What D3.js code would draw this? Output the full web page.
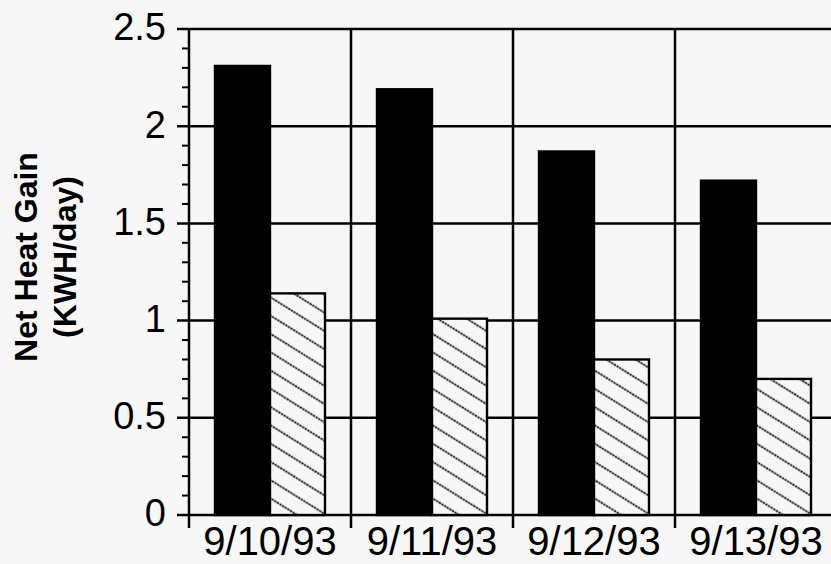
<!DOCTYPE html>
<html>
<head>
<meta charset="utf-8">
<script src="https://cdn.jsdelivr.net/npm/d3@7"></script>
<style>
  body { margin: 0; background: #f7f7f7; }
  svg { display: block; font-family: "Liberation Sans", Arial, Helvetica, sans-serif; }
</style>
</head>
<body>
<svg id="chart" width="831" height="564"></svg>
<script>
const dates = ["9/10/93", "9/11/93", "9/12/93", "9/13/93"];
const series = ["solid", "hatched"];
const solidValues = [2.31, 2.19, 1.87, 1.72];
const hatchedValues = [1.14, 1.01, 0.80, 0.70];
const yTicks = [0, 0.5, 1, 1.5, 2, 2.5];
const yTickLabels = ["0", "0.5", "1", "1.5", "2", "2.5"];

const svg = d3.select("#chart");
const plotLeft = 189, plotTop = 29, plotBottom = 515, bandW = 162;

const x0 = d3.scaleBand().domain(dates).range([plotLeft, plotLeft + bandW * dates.length]);
const x1 = d3.scaleBand().domain(series).range([26, 136]);
const y = d3.scaleLinear().domain([0, 2.5]).range([plotBottom, plotTop]);

// hatch pattern, lines running down to the right
const defs = svg.append("defs");
const pat = defs.append("pattern")
  .attr("id", "hatch")
  .attr("patternUnits", "userSpaceOnUse")
  .attr("width", 15.5).attr("height", 15.5)
  .attr("patternTransform", "rotate(32)");
pat.append("rect").attr("width", 15.5).attr("height", 15.5).attr("fill", "#f7f7f7");
pat.append("line")
  .attr("x1", 0).attr("x2", 15.5).attr("y1", 7.5).attr("y2", 7.5)
  .attr("stroke", "#000").attr("stroke-width", 1.7)
  .attr("stroke-dasharray", "2.2,0.8");

// horizontal grid lines (also the major ticks)
svg.append("g")
  .selectAll("line")
  .data(yTicks)
  .enter().append("line")
  .attr("x1", 177).attr("x2", 831)
  .attr("y1", d => y(d)).attr("y2", d => y(d))
  .attr("stroke", "#000").attr("stroke-width", 2.5);

// minor ticks
const minor = d3.range(0, 25).map(i => i / 10).filter(v => Math.round(v * 10) % 5 !== 0);
svg.append("g")
  .selectAll("line")
  .data(minor)
  .enter().append("line")
  .attr("x1", 182).attr("x2", plotLeft)
  .attr("y1", d => y(d)).attr("y2", d => y(d))
  .attr("stroke", "#000").attr("stroke-width", 2);

// vertical separators between dates
const bounds = dates.map(d => x0(d)).concat([x0.range()[1]]);
svg.append("g")
  .selectAll("line")
  .data(bounds)
  .enter().append("line")
  .attr("x1", d => d).attr("x2", d => d)
  .attr("y1", y(2.5)).attr("y2", plotBottom + 13)
  .attr("stroke", "#000").attr("stroke-width", 2.5);

// bars
const rows = dates.map((d, i) => ({ date: d, solid: solidValues[i], hatched: hatchedValues[i] }));
const groups = svg.append("g")
  .selectAll("g")
  .data(rows)
  .enter().append("g")
  .attr("transform", d => `translate(${x0(d.date)},0)`);

groups.selectAll("rect")
  .data(d => series.map(s => ({ key: s, value: d[s] })))
  .enter().append("rect")
  .attr("x", d => x1(d.key))
  .attr("y", d => y(d.value))
  .attr("width", x1.bandwidth())
  .attr("height", d => y(0) - y(d.value))
  .attr("fill", d => d.key === "solid" ? "#000" : "url(#hatch)")
  .attr("stroke", "#000")
  .attr("stroke-width", 2.4);

// y tick labels
svg.append("g")
  .selectAll("text")
  .data(yTicks)
  .enter().append("text")
  .attr("x", 166)
  .attr("y", d => y(d))
  .attr("dy", "0.3em")
  .attr("text-anchor", "end")
  .attr("font-size", 38)
  .text((d, i) => yTickLabels[i]);

// x axis labels
const xAxis = svg.append("g")
  .attr("transform", `translate(0,${plotBottom})`)
  .call(d3.axisBottom(x0).tickSize(0).tickPadding(12));
xAxis.select(".domain").remove();
xAxis.selectAll("text")
  .attr("font-size", 40)
  .attr("font-family", "Liberation Sans, Arial, sans-serif")
  .attr("fill", "#000");

// y axis title
const title = svg.append("text")
  .attr("transform", "translate(37,257) rotate(-90)")
  .attr("text-anchor", "middle")
  .attr("font-size", 32)
  .attr("font-weight", "bold");
title.append("tspan").attr("x", 0).attr("y", 0).text("Net Heat Gain");
title.append("tspan").attr("x", 0).attr("y", 39).text("(KWH/day)");
</script>
</body>
</html>
